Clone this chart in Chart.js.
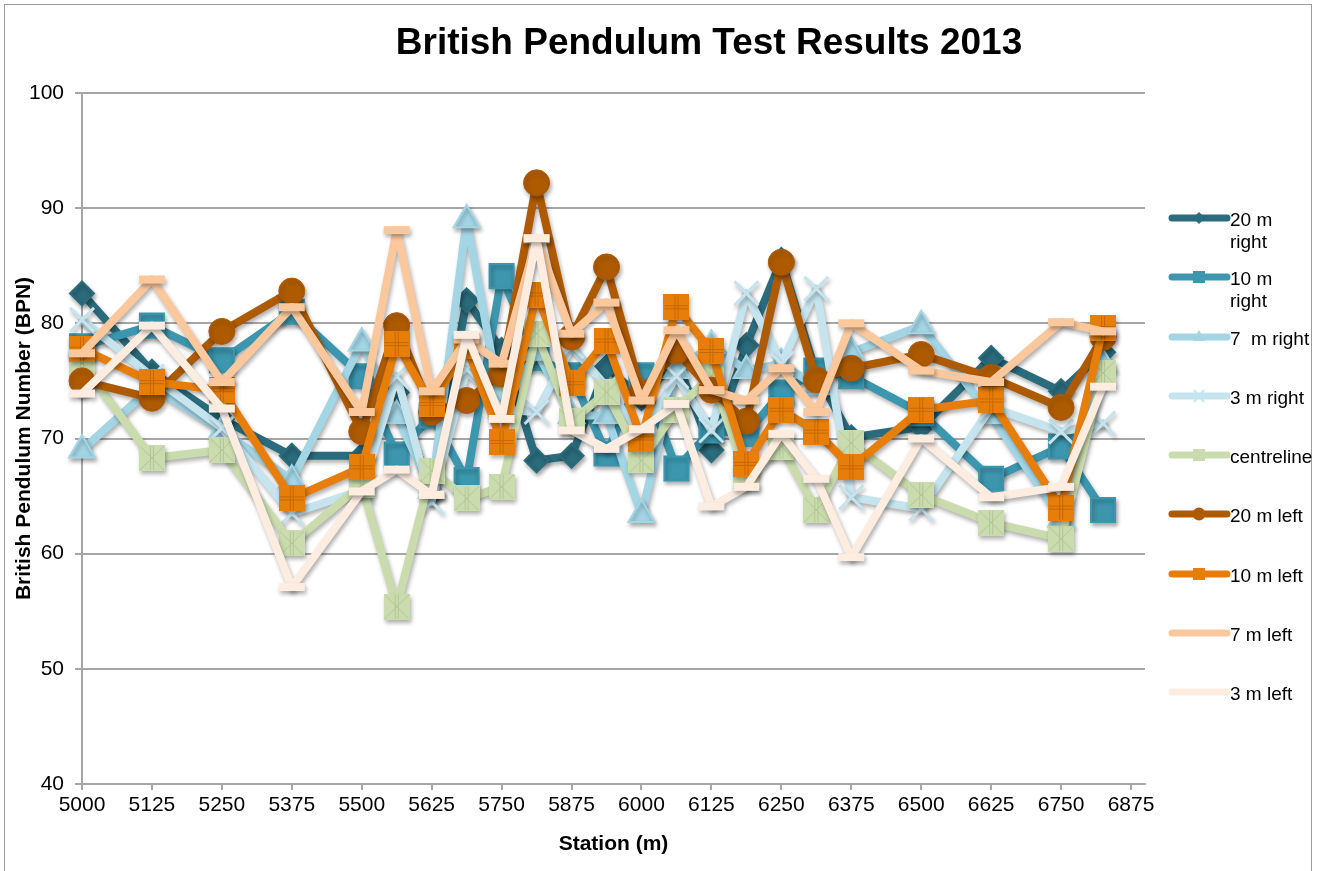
<!DOCTYPE html>
<html>
<head>
<meta charset="utf-8">
<script src="https://cdn.jsdelivr.net/npm/chart.js@4.4.1/dist/chart.umd.min.js"></script>
<style>
html,body{margin:0;padding:0;background:#fff;}
#wrap{position:relative;width:1322px;height:871px;overflow:hidden;font-family:'Liberation Sans',Arial,Helvetica,sans-serif;}
#frame{position:absolute;left:4px;top:4px;width:1308px;height:900px;border:1.5px solid #9c9c9c;box-sizing:border-box;}
#title{position:absolute;left:0;top:20px;width:1418px;text-align:center;font-weight:bold;font-size:37px;line-height:44px;color:#000;}
#chart{position:absolute;left:0;top:0;}
.lg-sw{position:absolute;}
.lg-tx{position:absolute;left:1230px;font-size:19px;line-height:22px;color:#000;white-space:pre;}
</style>
</head>
<body>
<div id="wrap">
  <div id="frame"></div>
  <canvas id="chart" width="1322" height="871"></canvas>
  <div id="title">British Pendulum Test Results 2013</div>
  <div id="legend"></div>
</div>
<script>
const FONT = "'Liberation Sans', Arial, Helvetica, sans-serif";

// ---- data ----
const stations = [5000, 5125, 5250, 5375, 5500, 5562.5, 5625, 5687.5, 5750, 5812.5, 5875, 5937.5,
                  6000, 6062.5, 6125, 6187.5, 6250, 6312.5, 6375, 6500, 6625, 6750, 6825];
const xTicks = [5000, 5125, 5250, 5375, 5500, 5625, 5750, 5875, 6000, 6125, 6250, 6375, 6500, 6625, 6750, 6875];
const yTicks = [40, 50, 60, 70, 80, 90, 100];

const seriesNames = ['20 m\nright', '10 m\nright', '7  m right', '3 m right', 'centreline',
                     '20 m left', '10 m left', '7 m left', '3 m left'];

const right20 = [82.6, 75.8, 71.7, 68.5, 68.5, 74.0, 65.3, 82.0, 77.7, 68.1, 68.5, 76.2,
                 73.5, 76.8, 69.0, 78.1, 85.5, 75.6, 70.1, 71.0, 77.0, 74.1, 77.5];
const right10 = [78.0, 79.8, 76.8, 81.0, 75.4, 68.6, 72.0, 66.4, 84.1, 77.0, 75.5, 68.7,
                 75.5, 67.4, 70.7, 70.4, 74.0, 75.9, 75.4, 72.2, 66.5, 69.3, 63.8];
const right7  = [69.0, 74.5, 70.7, 66.4, 78.3, 72.0, 65.5, 89.0, 72.5, 77.5, 72.0, 72.0,
                 63.4, 75.9, 78.1, 75.9, 76.5, 74.5, 77.5, 79.8, 72.0, 63.0, 76.5];
const right3  = [80.3, 75.4, 70.9, 63.5, 65.5, 75.4, 64.5, 76.0, 72.5, 72.3, 78.0, 74.5,
                 70.2, 75.4, 70.7, 82.6, 76.5, 83.0, 64.9, 63.9, 72.7, 70.6, 71.3];
const centre  = [76.5, 68.3, 69.0, 60.9, 66.0, 55.4, 67.2, 64.8, 65.8, 79.1, 71.5, 74.0,
                 68.1, 72.5, 75.5, 66.7, 69.3, 63.8, 69.6, 65.1, 62.7, 61.3, 75.7];
const left20  = [75.0, 73.5, 79.3, 82.8, 70.6, 79.8, 72.3, 73.3, 75.6, 92.2, 78.8, 84.9,
                 74.0, 77.6, 74.2, 71.5, 85.3, 75.1, 76.1, 77.3, 75.3, 72.7, 78.8];
const left10  = [77.8, 74.9, 74.2, 64.8, 67.5, 78.2, 73.0, 78.0, 69.7, 82.5, 74.8, 78.5,
                 70.0, 81.4, 77.6, 67.8, 72.5, 70.6, 67.5, 72.5, 73.3, 64.0, 79.6];
const left7   = [77.4, 83.8, 74.9, 81.4, 72.3, 88.1, 74.1, 78.6, 76.5, 87.3, 79.1, 81.8,
                 73.3, 79.4, 74.2, 73.3, 76.1, 72.3, 80.0, 75.9, 74.9, 80.1, 79.3];
const left3   = [73.9, 79.8, 72.6, 57.1, 65.4, 67.3, 65.1, 79.0, 71.7, 87.4, 70.7, 69.1,
                 70.8, 73.0, 64.1, 65.8, 70.4, 66.5, 59.7, 70.0, 64.9, 65.8, 74.5];

const seriesValues = [right20, right10, right7, right3, centre, left20, left10, left7, left3];

// ---- styles ----
const colors = ['#2a6b7c', '#3b96ae', '#a3d5e5', '#c5e4ee', '#cadcad', '#ad5a00', '#e87e0a', '#fbc89d', '#fdece0'];
const legendKinds = ['diamond', 'square', 'triangle', 'cross', 'square', 'circle', 'square', 'none', 'none'];

function patternSquare(fill, line, kind) {
  const s = 26, cv = document.createElement('canvas');
  cv.width = s; cv.height = s;
  const c = cv.getContext('2d');
  c.fillStyle = fill; c.fillRect(0, 0, s, s);
  c.strokeStyle = line; c.lineWidth = 1;
  c.beginPath();
  if (kind === 'plus') {
    c.moveTo(11.5, 1); c.lineTo(11.5, s - 1); c.moveTo(14.5, 1); c.lineTo(14.5, s - 1);
    c.moveTo(1, 11.5); c.lineTo(s - 1, 11.5); c.moveTo(1, 14.5); c.lineTo(s - 1, 14.5);
  } else {
    c.moveTo(1, 1); c.lineTo(s - 1, s - 1); c.moveTo(s - 1, 1); c.lineTo(1, s - 1);
    c.moveTo(11.5, 1); c.lineTo(11.5, s - 1); c.moveTo(14.5, 1); c.lineTo(14.5, s - 1);
  }
  c.stroke();
  return cv;
}

const pointCfg = [
  {pointStyle: 'rectRot', pointRadius: 12, pointBorderWidth: 2},
  {pointStyle: 'rect', pointRadius: 17, pointBorderWidth: 2},
  {pointStyle: 'triangle', pointRadius: 15, pointBorderWidth: 2},
  {pointStyle: 'crossRot', pointRadius: 17, pointBorderWidth: 3},
  {pointStyle: patternSquare('#cadcad', '#b3c795', 'x'), pointRadius: 13, pointBorderWidth: 0},
  {pointStyle: 'circle', pointRadius: 13, pointBorderWidth: 1},
  {pointStyle: patternSquare('#e87e0a', '#c76700', 'plus'), pointRadius: 13, pointBorderWidth: 0},
  {pointStyle: 'line', pointRadius: 13, pointBorderWidth: 8},
  {pointStyle: 'line', pointRadius: 13, pointBorderWidth: 8}
];

const datasets = seriesValues.map((vals, i) => Object.assign({
  label: seriesNames[i].replace('\n', ' '),
  data: stations.map((s, k) => ({x: s, y: vals[k]})),
  borderColor: colors[i],
  backgroundColor: colors[i],
  pointBackgroundColor: colors[i],
  pointBorderColor: colors[i],
  borderWidth: 8,
  borderJoinStyle: 'round',
  borderCapStyle: 'round',
  tension: 0,
  spanGaps: true,
  clip: false,
  order: seriesValues.length - i
}, pointCfg[i]));

const shadowPlugin = {
  id: 'shadow',
  beforeDatasetDraw(chart) {
    const ctx = chart.ctx;
    ctx.save();
    ctx.shadowColor = 'rgba(0,0,0,0.32)';
    ctx.shadowBlur = 4;
    ctx.shadowOffsetX = 1.5;
    ctx.shadowOffsetY = 3;
  },
  afterDatasetDraw(chart) { chart.ctx.restore(); }
};

new Chart(document.getElementById('chart'), {
  type: 'line',
  data: {datasets},
  plugins: [shadowPlugin],
  options: {
    responsive: false,
    animation: false,
    events: [],
    layout: {padding: {left: 0, right: 177, top: 93, bottom: 0}},
    plugins: {legend: {display: false}, title: {display: false}, tooltip: {enabled: false}},
    scales: {
      x: {
        type: 'linear', min: 5000, max: 6900,
        afterBuildTicks: s => { s.ticks = xTicks.map(v => ({value: v})); },
        afterFit: s => { s.height = 87; },
        ticks: {font: {size: 21, family: FONT}, color: '#000', padding: 3, maxRotation: 0, autoSkip: false,
                callback: v => String(v)},
        grid: {drawOnChartArea: false, drawTicks: true, tickLength: 6, color: '#a6a6a6', lineWidth: 2},
        border: {display: true, color: '#a6a6a6', width: 2},
        title: {display: true, text: 'Station (m)', color: '#000',
                font: {size: 21, weight: 'bold', family: FONT}, padding: {top: 0, bottom: 14}}
      },
      y: {
        min: 40, max: 100,
        afterBuildTicks: s => { s.ticks = yTicks.map(v => ({value: v})); },
        afterFit: s => { s.width = 82; },
        ticks: {font: {size: 21, family: FONT}, color: '#000', padding: 11},
        grid: {color: '#a6a6a6', lineWidth: 2, tickLength: 7},
        border: {display: true, color: '#a6a6a6', width: 2},
        title: {display: true, text: 'British Pendulum Number (BPN)', color: '#000',
                font: {size: 21, weight: 'bold', family: FONT}, padding: {top: 12, bottom: 0}}
      }
    }
  }
});

// ---- legend (HTML) ----
function drawSwatch(cv, color, kind) {
  const c = cv.getContext('2d');
  c.strokeStyle = color; c.fillStyle = color; c.lineWidth = 7; c.lineCap = 'round';
  c.beginPath(); c.moveTo(6, 10); c.lineTo(61, 10); c.stroke();
  const x = 33, y = 10;
  c.beginPath();
  if (kind === 'diamond') { c.moveTo(x - 6, y); c.lineTo(x, y - 6); c.lineTo(x + 6, y); c.lineTo(x, y + 6); c.closePath(); c.fill(); }
  else if (kind === 'square') { c.fillRect(x - 6, y - 6, 12, 12); }
  else if (kind === 'triangle') { c.moveTo(x, y - 7); c.lineTo(x + 6, y + 4); c.lineTo(x - 6, y + 4); c.closePath(); c.fill(); }
  else if (kind === 'cross') { c.lineWidth = 2; c.lineCap = 'butt'; c.moveTo(x - 5, y - 6); c.lineTo(x + 5, y + 6); c.moveTo(x + 5, y - 6); c.lineTo(x - 5, y + 6); c.stroke(); }
  else if (kind === 'circle') { c.arc(x, y, 6.5, 0, Math.PI * 2); c.fill(); }
}
const legend = document.getElementById('legend');
seriesNames.forEach((name, i) => {
  const yc = 218 + i * 59.25;
  const cv = document.createElement('canvas');
  cv.width = 66; cv.height = 20; cv.className = 'lg-sw';
  cv.style.left = '1166px'; cv.style.top = (yc - 10) + 'px';
  drawSwatch(cv, colors[i], legendKinds[i]);
  legend.appendChild(cv);
  const tx = document.createElement('div');
  tx.className = 'lg-tx';
  tx.style.top = (yc - 9) + 'px';
  tx.textContent = name;
  legend.appendChild(tx);
});
</script>
</body>
</html>
